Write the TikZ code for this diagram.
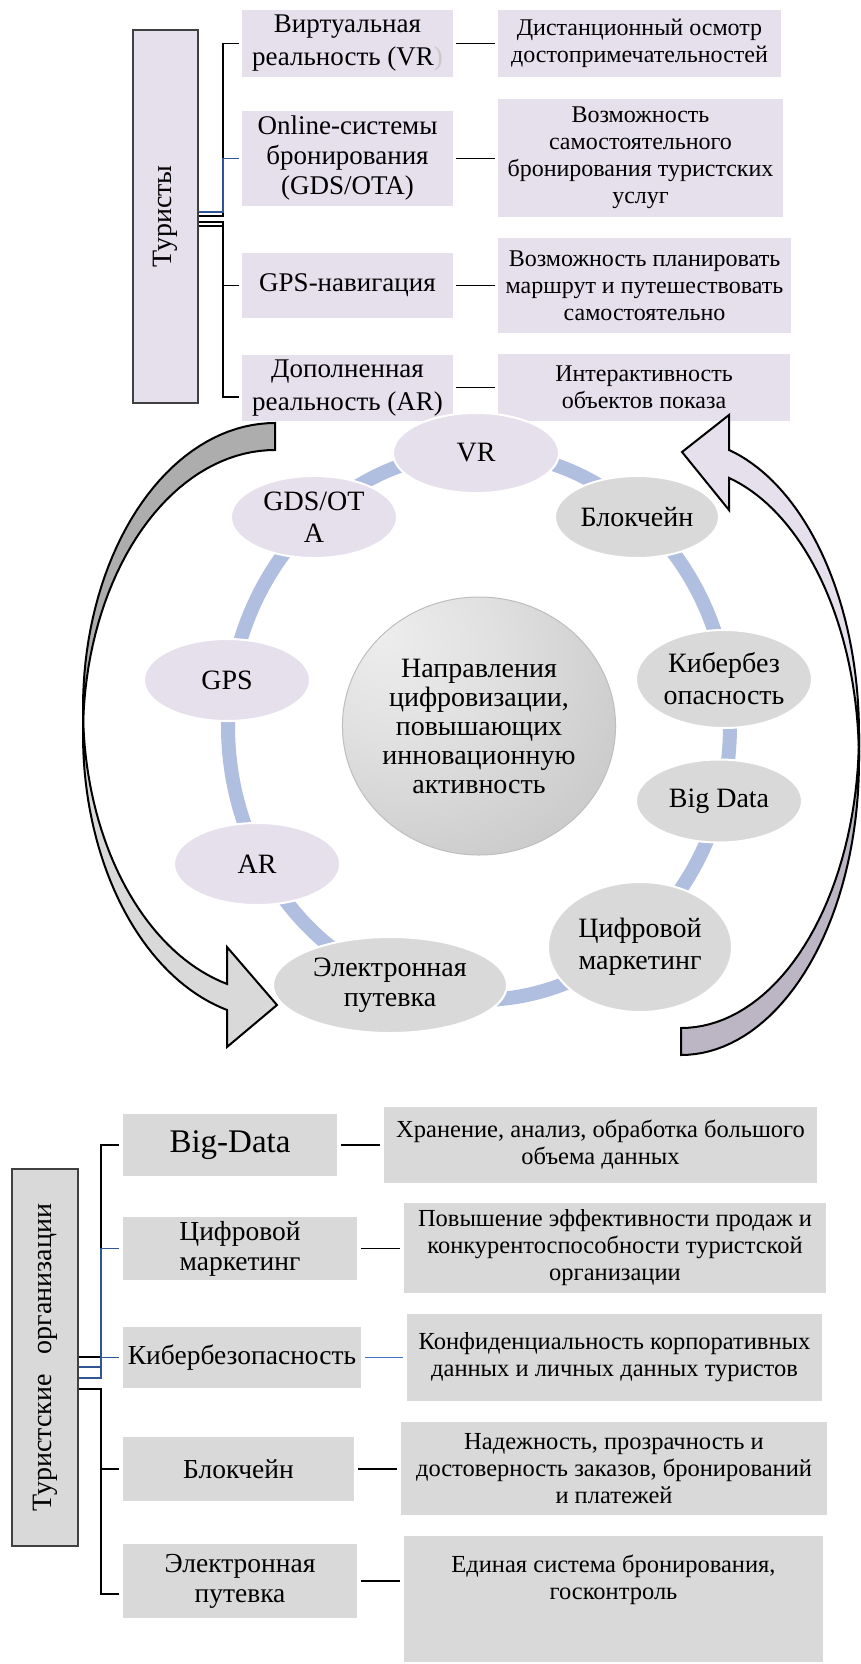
\documentclass[tikz,border=0pt]{standalone}
\usepackage{fontspec}
\setmainfont{Liberation Serif}
\usepackage{xcolor}
\usepackage{graphicx}
\usepackage{tikz}
\usetikzlibrary{shapes.geometric}

\pgfdeclareradialshading{coreshade}{\pgfpoint{-18bp}{18bp}}{color(0bp)=(white!93!black); color(18bp)=(white!88!black); color(50bp)=(white!76!black); color(78bp)=(white!58!black); color(100bp)=(white!56!black)}

\begin{document}
\begin{tikzpicture}[x=1pt,y=-1pt,
  hub/.style={rectangle,draw=frameColor,line width=1.5pt,inner sep=0pt,font=\fontsize{28}{30}\selectfont},
  lbox/.style={rectangle,fill=lavFill,inner sep=0pt,align=center,font=\fontsize{27}{30}\selectfont},
  lwide/.style={lbox,font=\fontsize{24}{27}\selectfont},
  gbox/.style={rectangle,fill=grayFill,inner sep=0pt,align=center,font=\fontsize{27.5}{30}\selectfont},
  gwide/.style={gbox,font=\fontsize{24.5}{27}\selectfont},
  oval/.style={ellipse,draw=white,line width=2pt,inner sep=0pt,align=center,font=\fontsize{28}{31}\selectfont},
  elbow/.style={draw=black,line width=1.4pt},
  belbow/.style={draw=bracketBlue,line width=1.4pt},
  link/.style={draw=black,line width=1.6pt,shorten <=3pt,shorten >=3pt},
  blink/.style={link,draw=linkBlue},
  ring/.style={draw=ringBlue,line width=14pt},
  arrowline/.style={draw=black,line width=2pt}]
\definecolor{lavFill}{RGB}{229,224,236}
\definecolor{grayFill}{RGB}{217,217,217}
\definecolor{frameColor}{RGB}{64,64,64}
\definecolor{bracketBlue}{RGB}{47,85,151}
\definecolor{linkBlue}{RGB}{68,114,196}
\definecolor{ringBlue}{RGB}{176,190,224}
\definecolor{parenColor}{RGB}{200,200,200}
\definecolor{coreRim}{RGB}{190,190,190}
\definecolor{leftDark}{RGB}{173,173,173}
\definecolor{leftLight}{RGB}{217,217,217}
\definecolor{rightDark}{RGB}{188,181,195}
\path[use as bounding box,fill=white] (0,0) rectangle (861,1664);

\node[hub,fill=lavFill,minimum width=65pt,minimum height=373pt] (tourists) at (165.5,216.5) {\rotatebox{90}{Туристы}};

\node[lbox,minimum width=211pt,minimum height=67pt,font=\fontsize{27}{33}\selectfont] (vrTech) at (347.5,43.5) {Виртуальная\\реальность (VR{\color{parenColor})}};
\node[lbox,minimum width=211pt,minimum height=95pt] (otaTech) at (347.5,158.5) {Online-системы\\бронирования\\(GDS/OTA)};
\node[lbox,minimum width=211pt,minimum height=65pt] (gpsTech) at (347.5,285.5) {GPS-навигация};
\node[lbox,minimum width=211pt,minimum height=66pt,font=\fontsize{27}{33}\selectfont] (arTech) at (347.5,388) {Дополненная\\реальность (AR)};

\node[lwide,minimum width=283pt,minimum height=67pt] (vrUse) at (639.5,43.5) {Дистанционный осмотр\\достопримечательностей};
\node[lwide,minimum width=285pt,minimum height=118pt] (otaUse) at (640.5,158) {Возможность\\самостоятельного\\бронирования туристских\\услуг};
\node[lwide,minimum width=293pt,minimum height=95pt] (gpsUse) at (644.5,285.5) {Возможность планировать\\маршрут и путешествовать\\самостоятельно};
\node[lwide,minimum width=292pt,minimum height=67pt] (arUse) at (644,387.5) {Интерактивность\\объектов показа};

\draw[elbow] ([yshift=0.5pt]tourists.east) -| ([xshift=-19pt]vrTech.west) -- ([xshift=-3pt]vrTech.west);
\draw[belbow] ([yshift=4.5pt]tourists.east) -| ([xshift=-19pt]otaTech.west) -- ([xshift=-3pt]otaTech.west);
\draw[elbow] ([yshift=-5.5pt]tourists.east) -| ([xshift=-19pt]gpsTech.west) -- ([xshift=-3pt]gpsTech.west);
\draw[elbow] ([yshift=-9.5pt]tourists.east) -| ([xshift=-19pt,yshift=-9pt]arTech.west) -- ([xshift=-3pt,yshift=-9pt]arTech.west);

\draw[link] (vrTech.east) -- (vrTech.east -| vrUse.west);
\draw[link] (otaTech.east) -- (otaTech.east -| otaUse.west);
\draw[link] (gpsTech.east) -- (gpsTech.east -| gpsUse.west);
\draw[link] (arUse.west -| arTech.east) -- (arUse.west);

\draw[ring] (479,726) ellipse [x radius=251pt, y radius=274pt];

\node[oval,shade,shading=coreshade,draw=coreRim,line width=1pt,minimum width=272pt,minimum height=258pt,font=\fontsize{28}{29}\selectfont] (core) at (479,726) {Направления\\цифровизации,\\повышающих\\инновационную\\активность};

\node[oval,fill=lavFill,minimum width=166pt,minimum height=80pt] (vrOval) at (476,453) {VR};
\node[oval,fill=grayFill,minimum width=164pt,minimum height=82pt] (chainOval) at (637,517) {Блокчейн};
\node[oval,fill=grayFill,minimum width=176pt,minimum height=98pt,font=\fontsize{28}{32}\selectfont] (secOval) at (724,679) {Кибербез\\опасность};
\node[oval,fill=grayFill,minimum width=166pt,minimum height=83pt] (dataOval) at (719,801) {Big Data};
\node[oval,fill=grayFill,minimum width=184pt,minimum height=130pt,font=\fontsize{28}{32}\selectfont] (mktOval) at (640,947) {Цифровой\\маркетинг};
\node[oval,fill=grayFill,minimum width=234pt,minimum height=96pt,font=\fontsize{28}{30}\selectfont] (tripOval) at (390,985) {Электронная\\путевка};
\node[oval,fill=lavFill,minimum width=166pt,minimum height=82pt] (arOval) at (257,864) {AR};
\node[oval,fill=lavFill,minimum width=166pt,minimum height=82pt] (gpsOval) at (227,680) {GPS};
\node[oval,fill=lavFill,minimum width=166pt,minimum height=82pt,font=\fontsize{28}{32}\selectfont] (otaOval) at (314,517) {GDS/OT\\A};

\filldraw[arrowline,fill=leftDark] (275,423) -- plot[domain=-90:-180,variable=\t,samples=40] ({275+192*cos(\t)},{708+285*sin(\t)}) -- plot[domain=-180:-90,variable=\t,samples=40] ({275+192*cos(\t)},{734.5+284.5*sin(\t)}) -- cycle;
\filldraw[arrowline,fill=leftLight] (83,708) -- plot[domain=180:104.48,variable=\t,samples=40] ({275+192*cos(\t)},{708+285*sin(\t)}) -- (227,947) -- (277,1005) -- (227,1047) -- plot[domain=104.48:180,variable=\t,samples=40] ({275+192*cos(\t)},{734.5+284.5*sin(\t)}) -- cycle;

\filldraw[arrowline,fill=rightDark] (681,1055) -- plot[domain=90:0,variable=\t,samples=40] ({681+178*cos(\t)},{761+294*sin(\t)}) -- plot[domain=0:90,variable=\t,samples=40] ({681+178*cos(\t)},{733.5+294.5*sin(\t)}) -- cycle;
\filldraw[arrowline,fill=lavFill] (859,761) -- plot[domain=0:-74.35,variable=\t,samples=40] ({681+178*cos(\t)},{761+294*sin(\t)}) -- (729,510) -- (682,452) -- (729,415) -- plot[domain=-74.35:0,variable=\t,samples=40] ({681+178*cos(\t)},{733.5+294.5*sin(\t)}) -- cycle;

\node[hub,fill=grayFill,minimum width=66pt,minimum height=377pt] (orgs) at (45,1357.5) {\rotatebox{90}{Туристские\hspace{20pt}организации}};

\node[gbox,minimum width=214pt,minimum height=62pt,font=\fontsize{33}{35}\selectfont] (bigTech) at (230,1145) {Big-Data};
\node[gbox,minimum width=234pt,minimum height=63pt] (mktTech) at (240,1248.5) {Цифровой\\маркетинг};
\node[gbox,minimum width=238pt,minimum height=61pt] (secTech) at (242,1357.5) {Кибербезопасность};
\node[gbox,minimum width=231pt,minimum height=64pt] (chainTech) at (238.5,1469) {Блокчейн};
\node[gbox,minimum width=234pt,minimum height=74pt] (tripTech) at (240,1581) {Электронная\\путевка};

\node[gwide,minimum width=433pt,minimum height=76pt] (bigUse) at (600.5,1145) {Хранение, анализ, обработка большого\\объема данных};
\node[gwide,minimum width=422pt,minimum height=90pt] (mktUse) at (615,1248) {Повышение эффективности продаж и\\конкурентоспособности туристской\\организации};
\node[gwide,minimum width=415pt,minimum height=87pt] (secUse) at (614.5,1357.5) {Конфиденциальность корпоративных\\данных и личных данных туристов};
\node[gwide,minimum width=426pt,minimum height=93pt] (chainUse) at (614,1468.5) {Надежность, прозрачность и\\достоверность заказов, бронирований\\и платежей};
\node[gwide,minimum width=419pt,minimum height=126pt] (tripUse) at (613.5,1599) {};
\node[gwide,fill=none] (tripUseText) at (613.5,1580) {Единая система бронирования,\\госконтроль};

\draw[elbow] ([yshift=0.5pt]orgs.east) -| ([xshift=-22pt]bigTech.west) -- ([xshift=-4pt]bigTech.west);
\draw[belbow] ([yshift=-9.5pt]orgs.east) -| ([xshift=-22pt]mktTech.west) -- ([xshift=-4pt]mktTech.west);
\draw[belbow] ([yshift=-20.5pt]orgs.east) -| ([xshift=-22pt]secTech.west) -- ([xshift=-4pt]secTech.west);
\draw[elbow] ([yshift=-31.5pt]orgs.east) -| ([xshift=-22pt]chainTech.west) -- ([xshift=-4pt]chainTech.west);
\draw[elbow] ([yshift=-31.5pt]orgs.east) -| ([xshift=-22pt,yshift=-13pt]tripTech.west) -- ([xshift=-4pt,yshift=-13pt]tripTech.west);

\draw[link,shorten <=4pt,shorten >=4pt] (bigTech.east) -- (bigTech.east -| bigUse.west);
\draw[link,shorten <=4pt,shorten >=4pt] (mktTech.east) -- (mktTech.east -| mktUse.west);
\draw[blink,shorten <=4pt,shorten >=4pt] (secTech.east) -- (secTech.east -| secUse.west);
\draw[link,shorten <=4pt,shorten >=4pt] (chainTech.east) -- (chainTech.east -| chainUse.west);
\draw[link,shorten <=4pt,shorten >=4pt] (tripTech.east) -- (tripTech.east -| tripUse.west);
\end{tikzpicture}
\end{document}
